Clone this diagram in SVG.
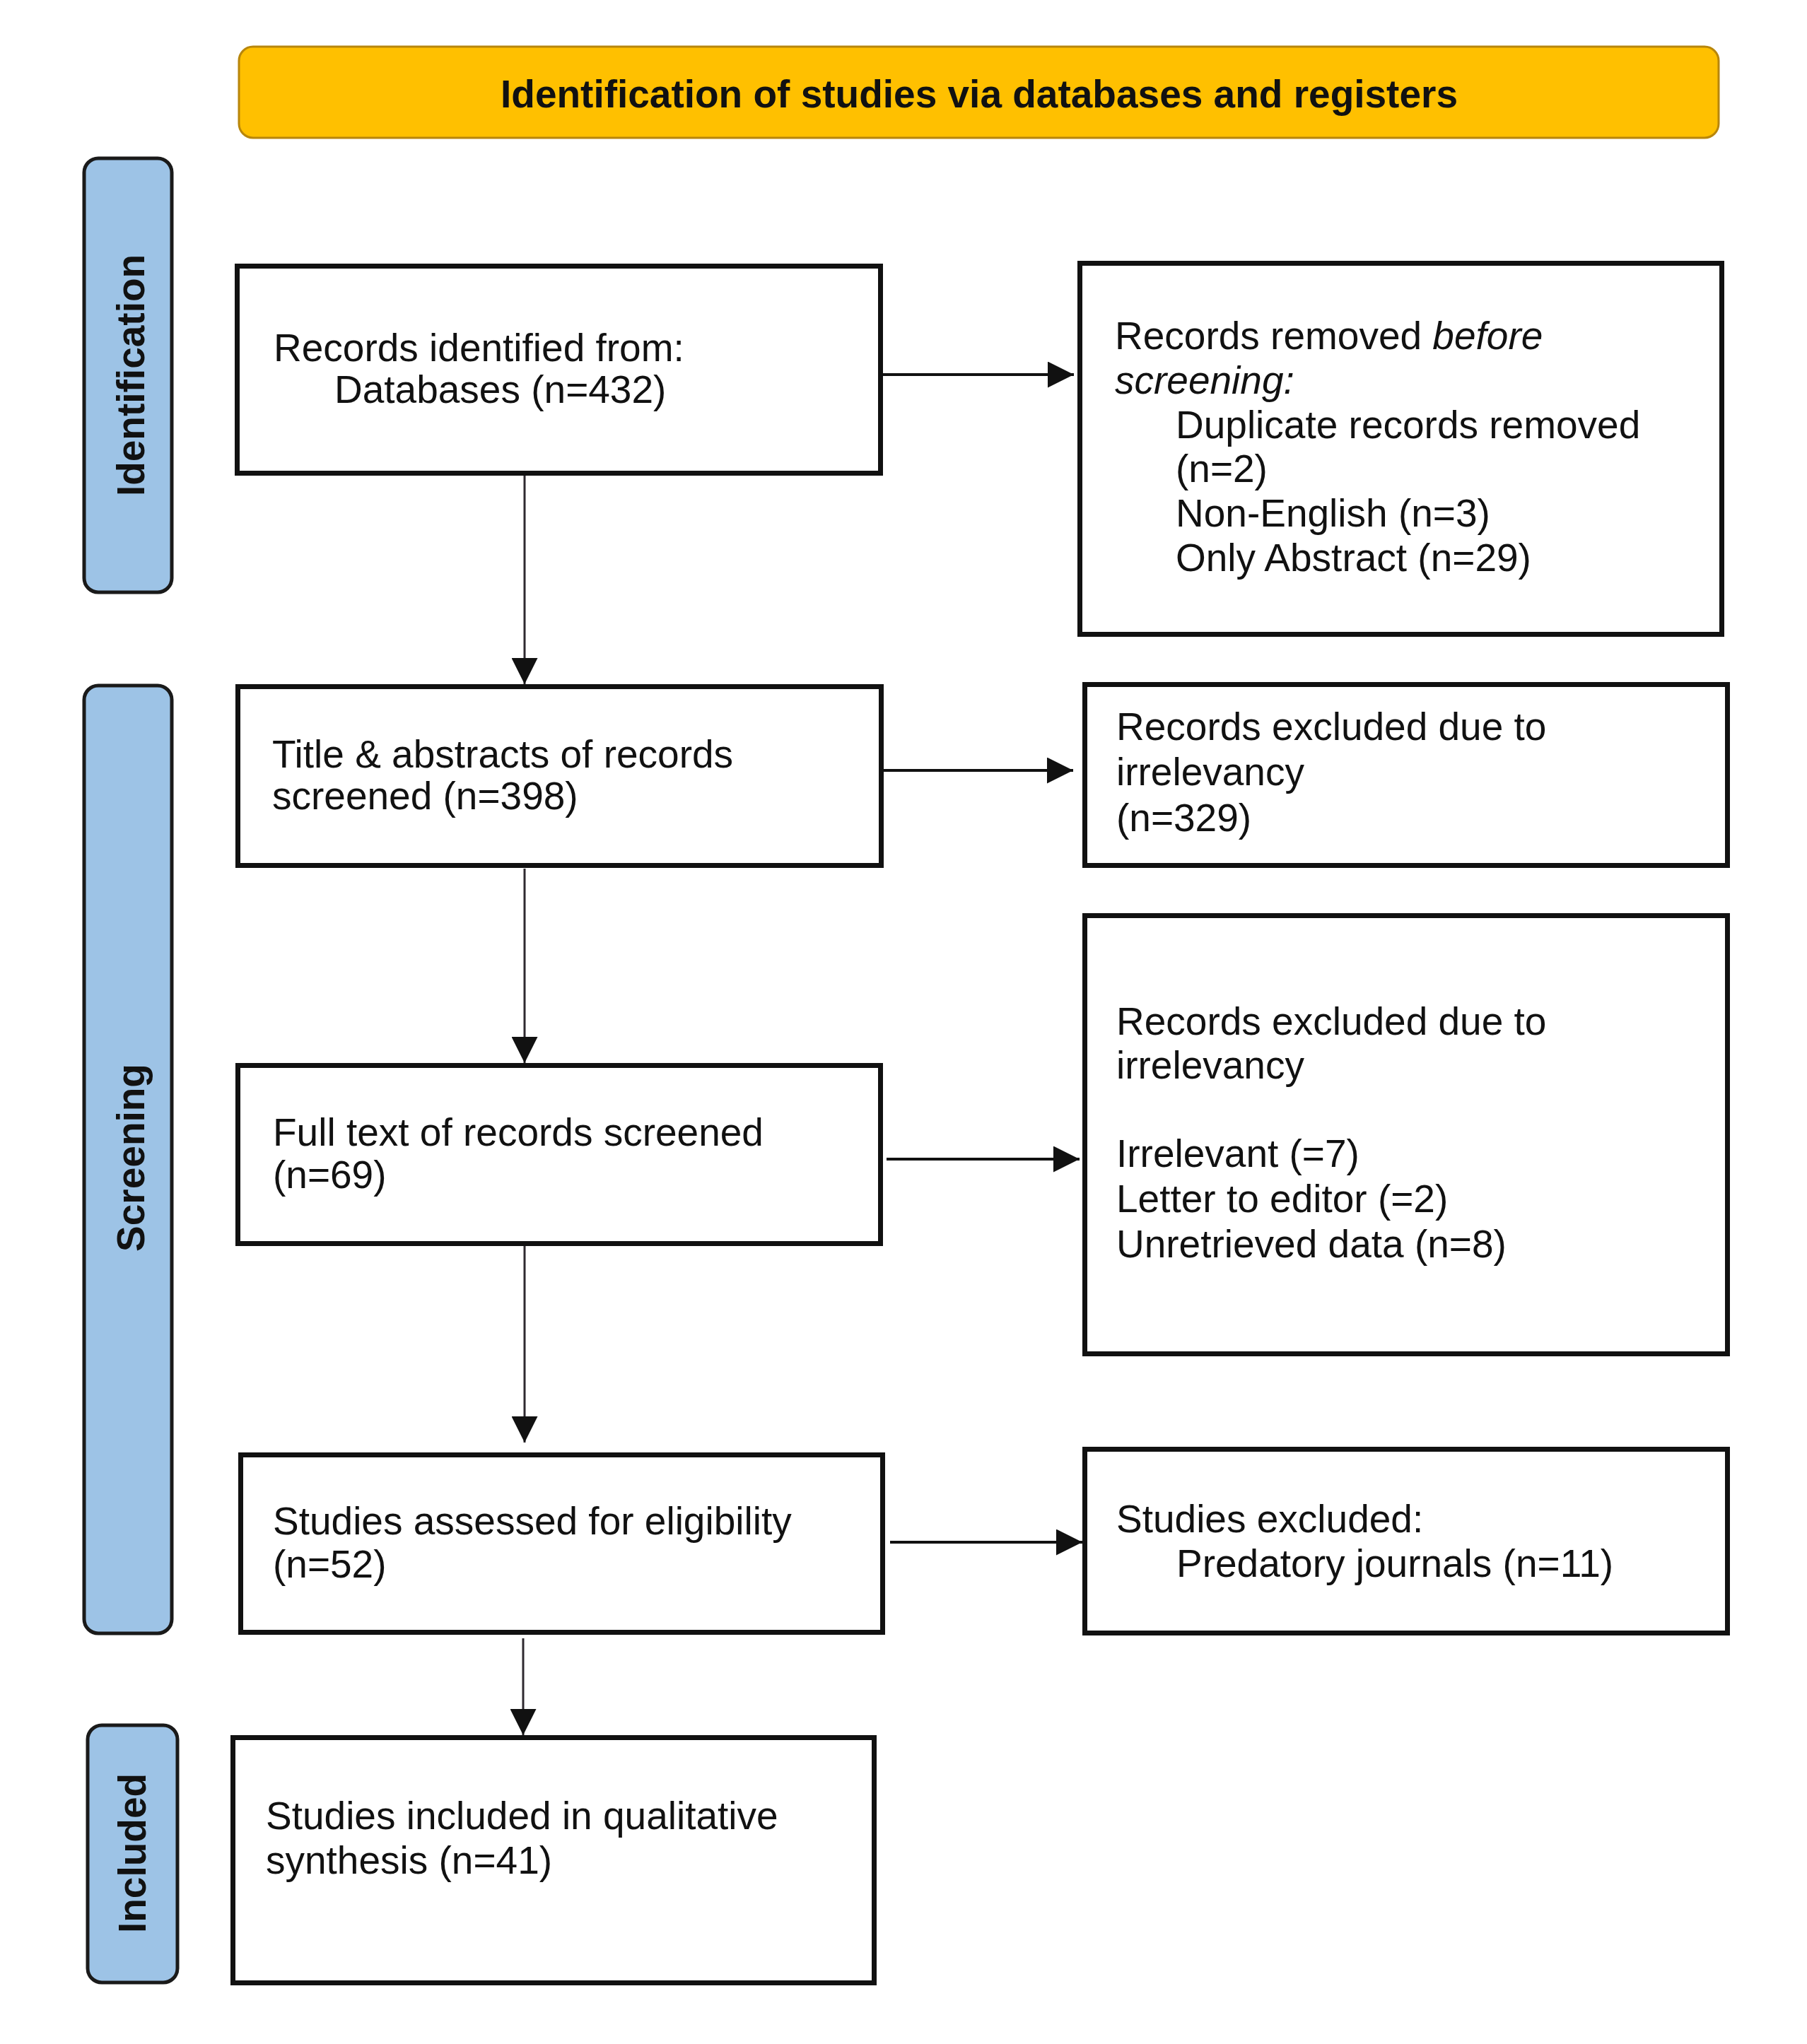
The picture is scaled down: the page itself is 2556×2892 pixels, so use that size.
<svg xmlns="http://www.w3.org/2000/svg" width="2556" height="2892" viewBox="0 0 2556 2892">
<defs>
<style>
.box{fill:#ffffff;stroke:#111111;stroke-width:7}
.side{fill:#9dc3e6;stroke:#1a1a1a;stroke-width:5}
.hdr{fill:#ffc000;stroke:#b8860b;stroke-width:3}
.t{font-family:"Liberation Sans",Arial,sans-serif;font-size:55px;fill:#111111}
.sl{font-family:"Liberation Sans",Arial,sans-serif;font-size:55px;font-weight:bold;fill:#111111;text-anchor:middle}
.ht{font-family:"Liberation Sans",Arial,sans-serif;font-size:55px;font-weight:bold;fill:#111111;text-anchor:middle}
.cv{stroke:#2f2a30;stroke-width:3;fill:none}
.ch{stroke:#111111;stroke-width:4;fill:none}
</style>
<marker id="ah" viewBox="0 0 10 10" refX="10" refY="5" markerWidth="37" markerHeight="37" markerUnits="userSpaceOnUse" orient="auto">
<path d="M0,0 L10,5 L0,10 Z" fill="#111111"/>
</marker>
</defs>
<rect width="2556" height="2892" fill="#ffffff"/>

<g id="header">
<rect class="hdr" x="338" y="66" width="2093" height="129" rx="20" ry="20"/>
<text class="ht" x="1385" y="152">Identification of studies via databases and registers</text>
</g>

<g id="side-identification">
<rect class="side" x="119" y="224" width="124" height="614" rx="20" ry="20"/>
<text class="sl" transform="translate(204,531) rotate(-90)">Identification</text>
</g>
<g id="side-screening">
<rect class="side" x="119" y="970" width="124" height="1341" rx="20" ry="20"/>
<text class="sl" transform="translate(204,1638) rotate(-90)">Screening</text>
</g>
<g id="side-included">
<rect class="side" x="124" y="2441" width="127" height="364" rx="20" ry="20"/>
<text class="sl" transform="translate(206,2622) rotate(-90)">Included</text>
</g>

<g id="connectors">
<line class="cv" x1="742" y1="673" x2="742" y2="968" marker-end="url(#ah)"/>
<line class="cv" x1="742" y1="1229" x2="742" y2="1504" marker-end="url(#ah)"/>
<line class="cv" x1="742" y1="1763" x2="742" y2="2041" marker-end="url(#ah)"/>
<line class="cv" x1="740" y1="2318" x2="740" y2="2455" marker-end="url(#ah)"/>
<line class="ch" x1="1249" y1="530" x2="1519" y2="530" marker-end="url(#ah)"/>
<line class="ch" x1="1249" y1="1090" x2="1518" y2="1090" marker-end="url(#ah)"/>
<line class="ch" x1="1254" y1="1640" x2="1527" y2="1640" marker-end="url(#ah)"/>
<line class="ch" x1="1259" y1="2182" x2="1531" y2="2182" marker-end="url(#ah)"/>
</g>

<g id="records-identified">
<rect class="box" x="335.5" y="376.5" width="910" height="293"/>
<text class="t" x="387" y="511">Records identified from:</text>
<text class="t" x="473" y="570">Databases (n=432)</text>
</g>

<g id="records-removed">
<rect class="box" x="1527.5" y="372.5" width="908" height="525"/>
<text class="t" x="1577" y="494">Records removed <tspan font-style="italic">before</tspan></text>
<text class="t" x="1577" y="557" font-style="italic">screening:</text>
<text class="t" x="1663" y="620">Duplicate records removed</text>
<text class="t" x="1663" y="682">(n=2)</text>
<text class="t" x="1663" y="745">Non-English (n=3)</text>
<text class="t" x="1663" y="808">Only Abstract (n=29)</text>
</g>

<g id="title-abstracts">
<rect class="box" x="336.5" y="971.5" width="910" height="253"/>
<text class="t" x="385" y="1086">Title &amp; abstracts of records</text>
<text class="t" x="385" y="1145">screened (n=398)</text>
</g>

<g id="excluded-irrelevancy-1">
<rect class="box" x="1534.5" y="968.5" width="909" height="256"/>
<text class="t" x="1579" y="1047">Records excluded due to</text>
<text class="t" x="1579" y="1111">irrelevancy</text>
<text class="t" x="1579" y="1176">(n=329)</text>
</g>

<g id="full-text">
<rect class="box" x="336.5" y="1507.5" width="909" height="252"/>
<text class="t" x="386" y="1621">Full text of records screened</text>
<text class="t" x="386" y="1681">(n=69)</text>
</g>

<g id="excluded-irrelevancy-2">
<rect class="box" x="1534.5" y="1295.5" width="909" height="620"/>
<text class="t" x="1579" y="1464">Records excluded due to</text>
<text class="t" x="1579" y="1526">irrelevancy</text>
<text class="t" x="1579" y="1651">Irrelevant (=7)</text>
<text class="t" x="1579" y="1715">Letter to editor (=2)</text>
<text class="t" x="1579" y="1779">Unretrieved data (n=8)</text>
</g>

<g id="assessed-eligibility">
<rect class="box" x="340.5" y="2058.5" width="908" height="251"/>
<text class="t" x="386" y="2171">Studies assessed for eligibility</text>
<text class="t" x="386" y="2232">(n=52)</text>
</g>

<g id="studies-excluded">
<rect class="box" x="1534.5" y="2050.5" width="909" height="260"/>
<text class="t" x="1579" y="2168">Studies excluded:</text>
<text class="t" x="1664" y="2231">Predatory journals (n=11)</text>
</g>

<g id="studies-included">
<rect class="box" x="329.5" y="2458.5" width="907" height="347"/>
<text class="t" x="376" y="2588">Studies included in qualitative</text>
<text class="t" x="376" y="2651">synthesis (n=41)</text>
</g>
</svg>
